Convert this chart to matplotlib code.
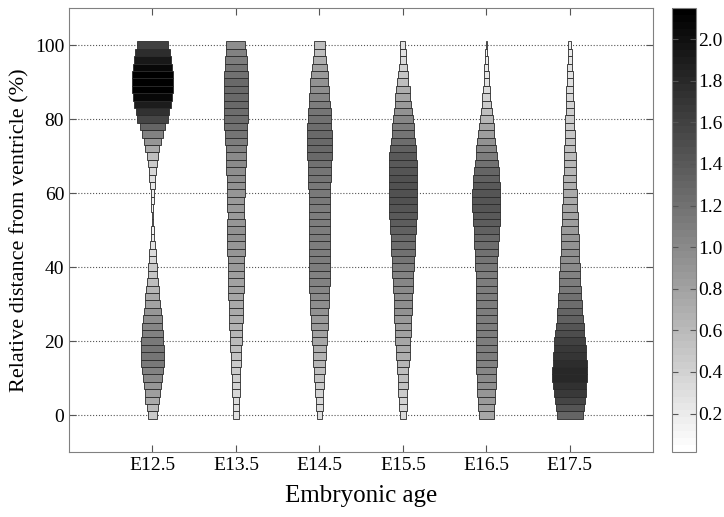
import numpy as np
import matplotlib
matplotlib.use('Agg')
import matplotlib.pyplot as plt
from matplotlib import cm, colors

plt.rcParams['font.family'] = ['Liberation Serif', 'DejaVu Serif']

# ages and relative distance levels (0, 2, ..., 100)
ages = ['E12.5', 'E13.5', 'E14.5', 'E15.5', 'E16.5', 'E17.5']
levels = list(range(0, 101, 2))

# density at each level, bottom (0) to top (100)
e125 = [0.46, 0.60, 0.72, 0.82, 0.90, 1.00, 1.08, 1.14, 1.17, 1.16, 1.13, 1.08, 1.03,
        0.97, 0.91, 0.81, 0.72, 0.64, 0.57, 0.51, 0.45, 0.38, 0.32, 0.26, 0.18, 0.12,
        0.09, 0.08, 0.10, 0.13, 0.17, 0.24, 0.31, 0.38, 0.45, 0.58, 0.72, 0.90, 1.07,
        1.30, 1.55, 1.72, 1.90, 2.05, 2.13, 2.15, 2.12, 2.05, 1.92, 1.78, 1.60]
e135 = [0.31, 0.31, 0.34, 0.38, 0.41, 0.43, 0.46, 0.48, 0.53, 0.57, 0.61, 0.64, 0.67,
        0.69, 0.72, 0.74, 0.77, 0.79, 0.81, 0.83, 0.85, 0.86, 0.89, 0.91, 0.93, 0.93,
        0.90, 0.86, 0.87, 0.88, 0.90, 0.93, 0.96, 0.98, 0.99, 1.00, 1.05, 1.10, 1.15,
        1.19, 1.22, 1.24, 1.25, 1.25, 1.25, 1.25, 1.21, 1.17, 1.10, 1.07, 0.98]
e145 = [0.29, 0.33, 0.37, 0.41, 0.47, 0.52, 0.57, 0.62, 0.66, 0.69, 0.75, 0.81, 0.85,
        0.88, 0.92, 0.96, 1.00, 1.03, 1.05, 1.07, 1.09, 1.10, 1.10, 1.10, 1.10, 1.10,
        1.10, 1.10, 1.11, 1.12, 1.12, 1.13, 1.15, 1.17, 1.21, 1.25, 1.25, 1.25, 1.25,
        1.24, 1.21, 1.17, 1.10, 1.03, 0.98, 0.93, 0.86, 0.79, 0.69, 0.57, 0.55]
e155 = [0.34, 0.38, 0.41, 0.47, 0.52, 0.55, 0.58, 0.64, 0.69, 0.73, 0.76, 0.79, 0.82,
        0.88, 0.93, 0.95, 0.96, 1.00, 1.03, 1.07, 1.10, 1.15, 1.20, 1.24, 1.27, 1.32,
        1.37, 1.41, 1.44, 1.45, 1.46, 1.46, 1.45, 1.43, 1.41, 1.39, 1.32, 1.24, 1.17,
        1.10, 1.03, 0.93, 0.86, 0.76, 0.69, 0.58, 0.50, 0.41, 0.34, 0.28, 0.26]
e165 = [0.76, 0.81, 0.86, 0.91, 0.96, 1.00, 1.03, 1.07, 1.10, 1.10, 1.10, 1.10, 1.10,
        1.10, 1.10, 1.10, 1.10, 1.10, 1.10, 1.11, 1.12, 1.15, 1.19, 1.23, 1.27, 1.32,
        1.37, 1.41, 1.44, 1.44, 1.44, 1.39, 1.34, 1.29, 1.20, 1.10, 1.03, 0.94, 0.84,
        0.76, 0.64, 0.57, 0.48, 0.41, 0.34, 0.27, 0.24, 0.20, 0.15, 0.10, 0.07]
e175 = [1.31, 1.44, 1.55, 1.65, 1.72, 1.79, 1.79, 1.75, 1.70, 1.67, 1.60, 1.51, 1.44,
        1.34, 1.29, 1.22, 1.19, 1.13, 1.10, 1.07, 1.00, 0.97, 0.95, 0.92, 0.90, 0.88,
        0.84, 0.80, 0.77, 0.74, 0.72, 0.69, 0.66, 0.64, 0.62, 0.60, 0.57, 0.54, 0.50,
        0.48, 0.46, 0.43, 0.40, 0.37, 0.34, 0.31, 0.28, 0.25, 0.22, 0.19, 0.17]
series = [e125, e135, e145, e155, e165, e175]

vmin, vmax = 0.015, 2.15
cmap = plt.get_cmap('gray_r', 64)
norm = colors.Normalize(vmin=vmin, vmax=vmax)

fig = plt.figure(figsize=(7.24, 5.17), dpi=100)
ax = fig.add_axes([0.0953, 0.1257, 0.807, 0.8588])

for i, dens in enumerate(series):
    d = np.array(dens)
    w = 0.5 * d / vmax
    ax.barh(levels, w, height=2, left=(i + 1) - w / 2, color=cmap(norm(d)),
            edgecolor='#2a2a2a', linewidth=0.6, zorder=3)

ax.set_xlim(0, 7)
ax.set_ylim(-10, 110)
ax.set_xticks(range(1, 7))
ax.set_xticklabels(ages)
ax.set_yticks(range(0, 101, 20))
ax.yaxis.grid(True, linestyle=':', color='#555555', linewidth=0.8)
ax.set_axisbelow(True)
ax.tick_params(direction='in', top=True, right=True, labelsize=14, color='#555555',
               length=5, width=0.8)
for s in ax.spines.values():
    s.set_color('#808080')
ax.set_xlabel('Embryonic age', fontsize=18, labelpad=8)
ax.set_ylabel('Relative distance from ventricle (%)', fontsize=16)

cax = fig.add_axes([0.928, 0.1257, 0.0331, 0.8588])
sm = cm.ScalarMappable(norm=norm, cmap=cmap)
cb = fig.colorbar(sm, cax=cax)
cb.set_ticks(np.arange(0.2, 2.01, 0.2))
cb.set_ticklabels(['%.1f' % t for t in np.arange(0.2, 2.01, 0.2)])
cb.outline.set_edgecolor('#808080')
cax.tick_params(direction='in', left=True, right=True, labelsize=14, color='#555555',
                length=4, width=0.8, pad=2)

fig.savefig('out.png', dpi=100)
